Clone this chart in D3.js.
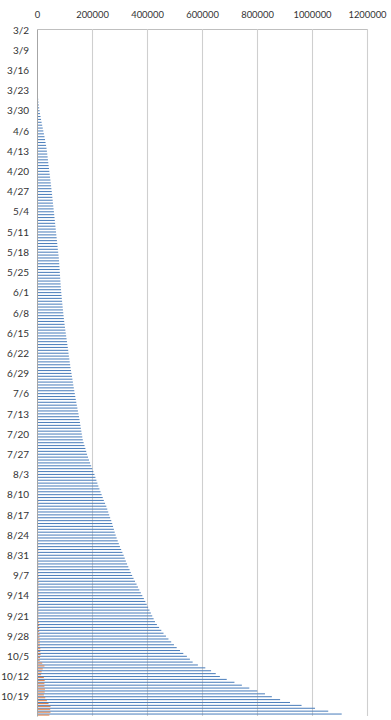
<!DOCTYPE html>
<html>
<head>
<meta charset="utf-8">
<script src="https://cdn.jsdelivr.net/npm/d3@7"></script>
<style>
  body { margin: 0; background: #fff; }
  svg { display: block; }
  text { font-family: Lato, "Open Sans", "Liberation Sans", sans-serif; fill: #333; }
</style>
</head>
<body>
<svg id="chart" width="391" height="720"></svg>
<script>
// One category per day, 3/2 through 10/25
const firstDay = new Date(2020, 2, 2);
const dayAfterLast = new Date(2020, 9, 26);
const categories = d3.timeDay.range(firstDay, dayAfterLast).map(d3.timeFormat("%-m/%-d"));

// Weekly labels on the category axis
const tickLabels = ["3/2","3/9","3/16","3/23","3/30","4/6","4/13","4/20","4/27","5/4","5/11","5/18",
  "5/25","6/1","6/8","6/15","6/22","6/29","7/6","7/13","7/20","7/27","8/3","8/10","8/17","8/24",
  "8/31","9/7","9/14","9/21","9/28","10/5","10/12","10/19"];

// Value axis ticks
const valueTicks = [0, 200000, 400000, 600000, 800000, 1000000, 1200000];

// Running total per day
const cumulative = [
  50, 60, 80, 100, 130, 170, 220, 280, 350, 430,
  520, 620, 740, 880, 1040, 1220, 1420, 1650, 1900, 2200,
  2500, 2850, 3250, 3700, 4400, 5300, 6500, 7900, 9400, 11000,
  12800, 14700, 16700, 18800, 20900, 23000, 25100, 27200, 29200, 31100,
  33000, 34600, 36000, 37300, 38600, 39800, 41000, 42300, 43600, 44900,
  46200, 47500, 48800, 50000, 51200, 52400, 53600, 54800, 55900, 57000,
  58100, 59200, 60300, 61500, 62600, 63700, 64800, 65900, 67000, 68100,
  69200, 70300, 71400, 72500, 73600, 74700, 75800, 77000, 78200, 79400,
  80200, 80900, 81600, 82300, 83000, 83700, 84400, 85100, 85800, 86500,
  87400, 88300, 89200, 90200, 91200, 92200, 93300, 94400, 95500, 96600,
  97700, 99000, 100300, 101700, 103100, 104500, 106000, 107500, 109000, 110500,
  112000, 113500, 114600, 116000, 117500, 119000, 120500, 122000, 123700, 125400,
  127100, 128800, 130500, 132000, 133800, 135600, 137400, 139200, 141000, 142900,
  144800, 146800, 148800, 150800, 152800, 154500, 156200, 157900, 159600, 161300,
  163000, 164700, 166500, 169500, 172800, 176000, 179000, 182000, 185500, 189000,
  193000, 197000, 201000, 205000, 209000, 212500, 216000, 219500, 223000, 227000,
  231000, 235000, 239000, 243000, 247500, 252000, 255500, 259000, 262500, 266000,
  270000, 273500, 276500, 279500, 282500, 286000, 289500, 293500, 297500, 301500,
  306000, 310500, 315000, 319000, 323000, 327500, 332000, 336500, 341000, 346000,
  351000, 356500, 362000, 367000, 372000, 377500, 383000, 388500, 394000, 399000,
  404000, 409000, 414000, 419000, 424000, 429000, 436000, 444000, 452000, 460000,
  469000, 478000, 488000, 498000, 508000, 520000, 532000, 545000, 556000, 566000,
  585000, 612000, 633000, 650000, 665000, 690000, 718000, 745000, 772000, 801000,
  829000, 854000, 884000, 920000, 962000, 1011000, 1059000, 1108000
];

// New count per day
const daily = [
  20, 30, 40, 60, 80, 90, 110, 140, 170, 200,
  230, 270, 320, 380, 440, 500, 560, 620, 700, 800,
  900, 1000, 1200, 1400, 1500, 1600, 1900, 2200, 2400, 2600,
  2500, 2700, 2800, 3000, 2600, 2200, 2100, 2400, 2300, 2000,
  1800, 1700, 1600, 1400, 1500, 1400, 1200, 1100, 1300, 1400,
  1300, 1200, 1000, 900, 1100, 1200, 1100, 1000, 900, 800,
  900, 1000, 1100, 1000, 900, 700, 800, 900, 1000, 900,
  800, 700, 900, 1000, 900, 800, 700, 1100, 1200, 1000,
  700, 600, 700, 800, 700, 600, 500, 600, 700, 700,
  800, 900, 900, 1000, 1000, 1000, 1100, 1100, 1100, 1100,
  1200, 1300, 1300, 1400, 1400, 1500, 1500, 1500, 1500, 1500,
  1500, 1500, 1100, 1400, 1500, 1500, 1500, 1500, 1700, 1700,
  1700, 1700, 1700, 1500, 1800, 1800, 1800, 1800, 1800, 1900,
  1900, 2000, 2000, 2000, 2000, 1700, 1700, 1700, 1700, 1700,
  1700, 1700, 1800, 3000, 3300, 3200, 3000, 3000, 3500, 3500,
  3500, 4000, 4000, 4000, 4000, 3500, 3500, 3500, 3500, 4000,
  4000, 4000, 4000, 4500, 4500, 3500, 3500, 3500, 3500, 4000,
  3500, 3000, 3000, 3000, 3500, 3500, 4000, 4000, 4000, 4500,
  4500, 4500, 4000, 4000, 4500, 4500, 4500, 4500, 5000, 5000,
  5500, 5500, 5000, 5000, 5500, 5500, 5500, 5500, 5000, 5000,
  5000, 5000, 5000, 5000, 5000, 7000, 8000, 8000, 8000, 9000,
  9000, 10000, 10000, 10000, 12000, 12000, 13000, 11000, 10000, 19000,
  27000, 21000, 17000, 15000, 25000, 28000, 27000, 27000, 29000, 28000,
  25000, 30000, 36000, 42000, 49000, 48000, 49000, 45000
];

const seriesKeys = ["cumulative", "daily"];
const seriesColors = { cumulative: "#4F81BD", daily: "#E2834A" };

const rows = categories.map((c, i) => ({ category: c, cumulative: cumulative[i], daily: daily[i] }));

const svg = d3.select("#chart");
const plot = { left: 37, right: 367, top: 29, bottom: 716 };

const x = d3.scaleLinear().domain([0, 1200000]).range([plot.left, plot.right]);
const y = d3.scaleBand().domain(categories).range([plot.top, plot.bottom])
  .paddingInner(0.28).paddingOuter(0.14);
const sub = d3.scaleBand().domain(seriesKeys).range([0, y.bandwidth()]);

// Value axis on top with vertical gridlines
const xAxis = svg.append("g")
  .attr("transform", `translate(0,${plot.top})`)
  .call(d3.axisTop(x).tickValues(valueTicks).tickFormat(d3.format("d"))
    .tickSizeInner(-(plot.bottom - plot.top)).tickSizeOuter(0).tickPadding(11));
xAxis.select(".domain").attr("stroke", "#bfbfbf");
xAxis.selectAll(".tick line").attr("stroke", "#cfcfcf").attr("stroke-width", 1.1);
xAxis.selectAll(".tick text").attr("font-size", "9.4px").attr("fill", "#333");
xAxis.selectAll(".tick").filter(d => d === 0).select("line").remove();

// Bars: each day holds one bar per series
const groups = svg.append("g").selectAll("g")
  .data(rows)
  .join("g")
  .attr("transform", d => `translate(0,${y(d.category)})`);

groups.selectAll("rect")
  .data(d => seriesKeys.map(k => ({ key: k, value: d[k] })))
  .join("rect")
  .attr("x", x(0))
  .attr("y", d => sub(d.key))
  .attr("width", d => x(d.value) - x(0))
  .attr("height", sub.bandwidth())
  .attr("fill", d => seriesColors[d.key]);

// Category axis on the left
const yAxis = svg.append("g")
  .attr("transform", `translate(${plot.left},0)`)
  .call(d3.axisLeft(y).tickValues(tickLabels).tickSize(0).tickPadding(8));
yAxis.select(".domain").attr("stroke", "#a6a6a6");
yAxis.selectAll(".tick text").attr("font-size", "10px").attr("fill", "#333");
</script>
</body>
</html>
